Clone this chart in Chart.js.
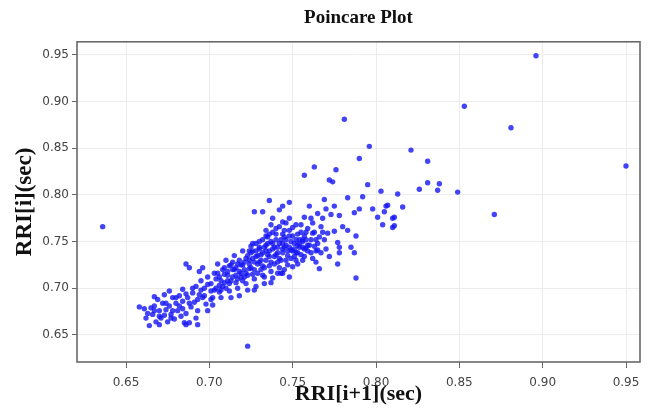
<!DOCTYPE html>
<html>
<head>
<meta charset="utf-8">
<script src="https://cdn.jsdelivr.net/npm/chart.js@4"></script>
<style>
  html, body { margin: 0; padding: 0; background: #fff; }
</style>
</head>
<body>
<canvas id="poincare-chart" width="653" height="409"></canvas>
<script>
// RRI[i+1] (x) vs RRI[i] (y), grouped by region
const tailPoints = [
  [0.661,0.678],[0.662,0.668],[0.664,0.660],[0.663,0.673],[0.658,0.680],
  [0.666,0.672],[0.668,0.664],[0.667,0.681],[0.669,0.688],[0.670,0.676],[0.665,0.679],[0.667,0.691],[0.670,0.661],
  [0.671,0.668],[0.672,0.684],[0.673,0.693],[0.674,0.677],[0.675,0.664],[0.673,0.671],
  [0.676,0.681],[0.677,0.672],[0.678,0.690],[0.679,0.667],[0.680,0.684],[0.676,0.697],[0.677,0.668],
  [0.681,0.676],[0.682,0.692],[0.683,0.670],[0.684,0.686],[0.685,0.663],[0.682,0.681],[0.684,0.699],
  [0.686,0.726],[0.688,0.722],[0.687,0.690],[0.689,0.680],[0.690,0.695],[0.686,0.673],[0.688,0.663],[0.686,0.661],
  [0.691,0.685],[0.692,0.702],[0.693,0.676],[0.694,0.693],[0.695,0.708],[0.692,0.668],[0.694,0.718],[0.693,0.661],
  [0.696,0.690],[0.697,0.700],[0.698,0.683],[0.699,0.712],[0.696,0.722],[0.699,0.676],
  [0.690,0.700],[0.693,0.688],[0.695,0.698],[0.697,0.692],[0.699,0.704],[0.688,0.684],[0.686,0.694],
  [0.684,0.678],[0.680,0.690],[0.678,0.676],[0.674,0.684],[0.670,0.670],[0.667,0.676]
];

const corePoints = [
  [0.701,0.705],[0.702,0.690],[0.703,0.716],[0.704,0.700],[0.705,0.726],[0.702,0.682],[0.704,0.710],[0.701,0.697],
  [0.706,0.712],[0.707,0.698],[0.708,0.720],[0.709,0.706],[0.710,0.730],[0.707,0.690],[0.709,0.715],[0.706,0.703],
  [0.711,0.718],[0.712,0.705],[0.713,0.725],[0.714,0.712],[0.715,0.735],[0.712,0.697],[0.714,0.720],[0.711,0.708],[0.713,0.690],
  [0.716,0.722],[0.717,0.710],[0.718,0.730],[0.719,0.716],[0.720,0.740],[0.717,0.700],[0.719,0.725],[0.716,0.714],[0.718,0.692],[0.720,0.708],
  [0.721,0.728],[0.722,0.716],[0.723,0.735],[0.724,0.721],[0.725,0.745],[0.722,0.705],[0.724,0.730],[0.721,0.712],[0.723,0.698],[0.725,0.738],
  [0.726,0.732],[0.727,0.720],[0.728,0.740],[0.729,0.726],[0.730,0.750],[0.727,0.710],[0.729,0.735],[0.726,0.715],[0.728,0.702],[0.730,0.742],[0.727,0.698],
  [0.731,0.736],[0.732,0.724],[0.733,0.744],[0.734,0.730],[0.735,0.755],[0.732,0.714],[0.734,0.740],[0.731,0.720],[0.733,0.705],[0.735,0.748],[0.732,0.782],[0.734,0.762],
  [0.736,0.740],[0.737,0.728],[0.738,0.748],[0.739,0.734],[0.740,0.758],[0.737,0.718],[0.739,0.744],[0.736,0.724],[0.738,0.711],[0.740,0.752],[0.736,0.794],[0.738,0.775],[0.737,0.768],
  [0.741,0.744],[0.742,0.732],[0.743,0.752],[0.744,0.738],[0.745,0.762],[0.742,0.722],[0.744,0.748],[0.741,0.728],[0.743,0.716],[0.745,0.755],[0.742,0.784],[0.744,0.788],[0.744,0.771],
  [0.746,0.746],[0.747,0.735],[0.748,0.756],[0.749,0.741],[0.750,0.765],[0.747,0.725],[0.749,0.750],[0.746,0.730],[0.748,0.712],[0.750,0.723],[0.748,0.792],[0.748,0.775],
  [0.751,0.748],[0.752,0.738],[0.753,0.758],[0.754,0.744],[0.755,0.768],[0.752,0.730],[0.754,0.752],[0.751,0.734],[0.753,0.738],[0.755,0.760],
  [0.756,0.750],[0.757,0.742],[0.758,0.760],[0.759,0.746],[0.756,0.730],[0.758,0.743],[0.757,0.776],[0.756,0.752]
];

const densePoints = [
  [0.720,0.725],[0.722,0.732],[0.724,0.726],[0.726,0.740],[0.728,0.734],[0.730,0.728],[0.732,0.738],[0.734,0.746],[0.736,0.734],[0.738,0.742],
  [0.740,0.736],[0.742,0.748],[0.744,0.742],[0.746,0.752],[0.748,0.744],[0.750,0.740],[0.752,0.752],[0.754,0.748],[0.756,0.744],[0.758,0.752],
  [0.721,0.720],[0.723,0.714],[0.725,0.722],[0.727,0.728],[0.729,0.716],[0.731,0.730],[0.733,0.722],[0.735,0.736],[0.737,0.750],[0.739,0.726],
  [0.741,0.738],[0.743,0.730],[0.745,0.744],[0.747,0.740],[0.749,0.732],[0.751,0.742],[0.753,0.746],[0.755,0.736],[0.757,0.756],[0.759,0.740],
  [0.705,0.716],[0.707,0.708],[0.709,0.722],[0.711,0.714],[0.713,0.708],[0.715,0.720],[0.717,0.726],[0.719,0.712],[0.708,0.702],[0.712,0.724],
  [0.716,0.706],[0.718,0.718],[0.714,0.728],[0.710,0.700],[0.706,0.696],[0.701,0.688],[0.703,0.698],
  [0.728,0.748],[0.732,0.752],[0.736,0.758],[0.740,0.764],[0.744,0.758],[0.748,0.762],[0.752,0.768],[0.746,0.770],[0.738,0.760],
  [0.734,0.756],[0.730,0.744],[0.726,0.748],[0.724,0.740],[0.742,0.766],[0.750,0.756],
  [0.733,0.712],[0.737,0.706],[0.741,0.716],[0.745,0.720],[0.753,0.726],[0.757,0.734],[0.761,0.738],[0.763,0.760],[0.762,0.770],[0.764,0.752],
  [0.760,0.746],[0.762,0.732],[0.765,0.748],[0.767,0.738],[0.769,0.752],[0.770,0.742],[0.772,0.734],[0.759,0.764],[0.764,0.728],[0.768,0.760]
];

const upperPoints = [
  [0.761,0.752],[0.762,0.759],[0.763,0.745],[0.760,0.788],[0.761,0.775],[0.764,0.740],
  [0.766,0.755],[0.767,0.766],[0.765,0.741],[0.768,0.775],[0.766,0.721],[0.769,0.795],[0.770,0.785],
  [0.763,0.830],[0.757,0.821],[0.776,0.827],[0.772,0.816],[0.774,0.814],[0.795,0.811],[0.783,0.797],
  [0.792,0.798],[0.803,0.804],[0.813,0.801],[0.826,0.806],[0.831,0.813],[0.837,0.805],[0.816,0.787],
  [0.807,0.789],[0.798,0.785],[0.790,0.785],[0.801,0.776],[0.804,0.768],[0.811,0.776],[0.811,0.767],
  [0.810,0.765],[0.787,0.781],[0.783,0.762],[0.788,0.756],[0.785,0.744],[0.787,0.738],[0.788,0.711],
  [0.777,0.726],[0.778,0.738],[0.777,0.749],[0.778,0.744],[0.775,0.788],[0.773,0.779],[0.778,0.778],
  [0.765,0.780],[0.771,0.759],[0.775,0.761],[0.780,0.766],[0.727,0.782],[0.744,0.716],
  [0.838,0.812],[0.849,0.803],[0.806,0.788],[0.805,0.782],[0.810,0.775],[0.796,0.852],[0.790,0.839],
  [0.821,0.848],[0.831,0.836]
];

const outlierPoints = [
  [0.636,0.766],[0.723,0.638],[0.896,0.949],[0.853,0.895],[0.881,0.872],[0.950,0.831],[0.871,0.779],[0.781,0.881]
];

const xTitle = "RRI[i+1](sec)";
const yTitle = "RRI[i](sec)";

const allPoints = tailPoints.concat(corePoints, densePoints, upperPoints, outlierPoints)
  .map((p) => ({ x: p[0], y: p[1] }));

// box round the plot area (Chart.js only draws one side per axis)
const frameBox = {
  id: "frameBox",
  afterDraw(chart) {
    const a = chart.chartArea;
    const ctx = chart.ctx;
    ctx.save();
    ctx.strokeStyle = "#6a6a6a";
    ctx.lineWidth = 1.6;
    ctx.strokeRect(a.left, a.top, a.right - a.left, a.bottom - a.top);
    ctx.restore();
  },
};

const tickFont = { family: "DejaVu Sans", size: 12 };

const config = {
  type: "scatter",
  data: {
    datasets: [
      {
        data: allPoints,
        backgroundColor: "rgba(20,20,245,0.8)",
        borderWidth: 0,
        pointRadius: 2.7,
      },
    ],
  },
  options: {
    responsive: false,
    animation: false,
    layout: { padding: { left: 0, right: 13, top: 0, bottom: 0 } },
    plugins: {
      legend: { display: false },
      tooltip: { enabled: false },
      title: {
        display: true,
        text: "Poincare Plot",
        fullSize: false,
        color: "#111",
        font: { family: "Liberation Serif", size: 19, weight: "bold" },
        padding: { top: 7, bottom: 12 },
      },
    },
    scales: {
      x: {
        type: "linear",
        min: 0.6206,
        max: 0.9584,
        afterFit: (s) => { s.height = 47; },
        border: { display: false },
        grid: { color: "#ececec", tickLength: 6, tickColor: "#666" },
        ticks: {
          stepSize: 0.05,
          includeBounds: false,
          padding: 8,
          color: "#444",
          font: tickFont,
          callback: (v) => v.toFixed(2),
        },
        title: {
          display: true,
          text: xTitle,
          color: "#111",
          font: { family: "Liberation Serif", size: 22, weight: "bold" },
          padding: { top: 0, bottom: 1 },
        },
      },
      y: {
        type: "linear",
        min: 0.621,
        max: 0.964,
        afterFit: (s) => { s.width = 77; },
        border: { display: false },
        grid: { color: "#ececec", tickLength: 5, tickColor: "#666" },
        ticks: {
          stepSize: 0.05,
          includeBounds: false,
          padding: 3,
          color: "#444",
          font: tickFont,
          callback: (v) => v.toFixed(2),
        },
        title: {
          display: true,
          text: yTitle,
          color: "#111",
          font: { family: "Liberation Serif", size: 23, weight: "bold" },
          padding: { top: 11, bottom: 0 },
        },
      },
    },
  },
  plugins: [frameBox],
};

const poincareChart = new Chart(document.getElementById("poincare-chart"), config);
</script>
</body>
</html>
